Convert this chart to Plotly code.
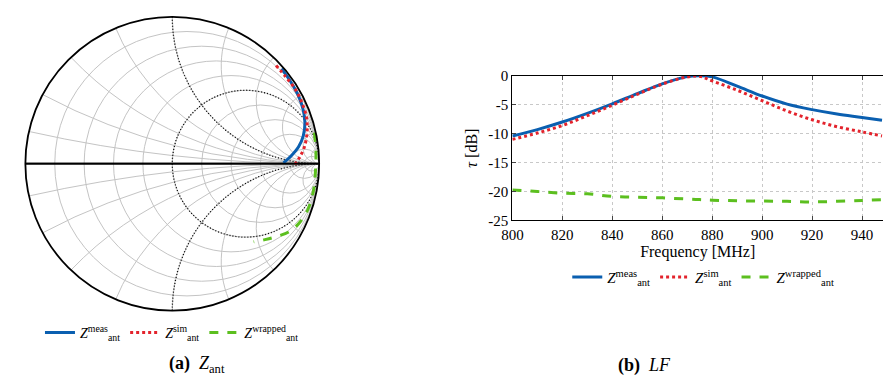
import numpy as np
import plotly.graph_objects as go

# ---------------- data ----------------
# Reflection coefficient (Gamma) of the antenna impedance
meas_gamma_re = [0.744, 0.805, 0.859, 0.892, 0.903, 0.892, 0.859, 0.805, 0.757]
meas_gamma_im = [0.647, 0.560, 0.462, 0.364, 0.277, 0.190, 0.114, 0.049, 0.005]
sim_gamma_re = [0.707, 0.772, 0.838, 0.881, 0.913, 0.918, 0.903, 0.870, 0.826]
sim_gamma_im = [0.669, 0.592, 0.506, 0.419, 0.321, 0.223, 0.125, 0.049, -0.016]
wrap_gamma_re = [0.968, 0.978, 0.975, 0.962, 0.924, 0.870, 0.805, 0.718, 0.631, 0.554]
wrap_gamma_im = [0.212, 0.082, -0.049, -0.179, -0.310, -0.397, -0.458, -0.494, -0.517, -0.532]

# LF transmission vs frequency
freq_mhz = [800, 810, 820, 830, 840, 850, 860, 870, 875, 880, 890, 900, 910, 920, 930, 940, 948]
tau_meas = [-10.4, -9.3, -8.0, -6.5, -4.85, -3.1, -1.4, -0.15, 0.0, -0.2, -1.8, -3.5, -4.9, -5.85, -6.6, -7.2, -7.7]
tau_sim = [-11.0, -9.9, -8.6, -6.9, -5.1, -3.2, -1.45, -0.2, -0.1, -0.9, -2.5, -4.3, -6.1, -7.6, -8.8, -9.7, -10.4]
tau_wrap = [-19.75, -20.0, -20.3, -20.4, -20.85, -21.0, -21.1, -21.3, -21.4, -21.5, -21.6, -21.65, -21.7, -21.8, -21.7, -21.55, -21.4]

y_tickvals = [0, -5, -10, -15, -20, -25]
y_ticktext = ["0", "-5", "-10", "-15", "-20", "-25"]
x_tickvals = [800, 820, 840, 860, 880, 900, 920, 940]

smith_grid_vals = [1 / 9, 0.25, 3 / 7, 2 / 3, 1, 1.5, 7 / 3, 4, 9, 19]

names = ["<i>Z</i><sup>meas</sup><sub>ant</sub>",
         "<i>Z</i><sup>sim</sup><sub>ant</sub>",
         "<i>Z</i><sup>wrapped</sup><sub>ant</sub>"]
colors = ["#0a5fb0", "#e3232c", "#5cbf1f"]
dashes = ["solid", "dot", "dash"]

FONT = "Liberation Serif, DejaVu Serif, serif"


def to_z(gr, gi):
    g = np.array(gr) + 1j * np.array(gi)
    z = (1 + g) / (1 - g)
    return z.real, z.imag


fig = go.Figure()

# Smith-chart reference lines (r = 1 circle, x = +/-1 arcs, real axis)
t = np.tan(np.linspace(-1.565, 1.565, 400))
fig.add_trace(go.Scattersmith(real=np.ones_like(t), imag=t, mode="lines",
                              line=dict(color="black", width=1.3, dash="1px,2px"),
                              showlegend=False, hoverinfo="skip"))
tr = np.tan(np.linspace(0, 1.565, 300))
for s in (1, -1):
    fig.add_trace(go.Scattersmith(real=tr, imag=s * np.ones_like(tr), mode="lines",
                                  line=dict(color="black", width=1.3, dash="1px,2px"),
                                  showlegend=False, hoverinfo="skip"))
fig.add_trace(go.Scattersmith(real=[0, 1e6], imag=[0, 0], mode="lines",
                              line=dict(color="black", width=1.8),
                              showlegend=False, hoverinfo="skip"))

# data on the Smith chart
for gr, gi, nm, c, d in [(meas_gamma_re, meas_gamma_im, names[0], colors[0], dashes[0]),
                         (sim_gamma_re, sim_gamma_im, names[1], colors[1], dashes[1]),
                         (wrap_gamma_re, wrap_gamma_im, names[2], colors[2], dashes[2])]:
    zr, zi = to_z(gr, gi)
    fig.add_trace(go.Scattersmith(real=zr, imag=zi, mode="lines", name=nm,
                                  line=dict(color=c, width=3, dash=d, shape="spline"),
                                  legend="legend"))

# LF plot
for y, nm, c, d in [(tau_meas, names[0], colors[0], dashes[0]),
                    (tau_sim, names[1], colors[1], dashes[1]),
                    (tau_wrap, names[2], colors[2], dashes[2])]:
    fig.add_trace(go.Scatter(x=freq_mhz, y=y, mode="lines", name=nm,
                             line=dict(color=c, width=3, dash=d, shape="spline"),
                             legend="legend2"))

W, H = 883, 383
fig.update_layout(
    width=W, height=H, margin=dict(l=0, r=0, t=0, b=0),
    paper_bgcolor="white", plot_bgcolor="white",
    font=dict(family=FONT, size=15, color="black"),
    smith=dict(
        domain=dict(x=[10 / W, 316.6 / W], y=[1 - 315.8 / H, 1 - 9.2 / H]),
        bgcolor="white",
        realaxis=dict(tickvals=smith_grid_vals, showticklabels=False, ticks="",
                      gridcolor="#c4c4c4", gridwidth=0.8, showline=True,
                      linecolor="black", linewidth=1.8),
        imaginaryaxis=dict(tickvals=[-v for v in smith_grid_vals[::-1]] + smith_grid_vals,
                           showticklabels=False, ticks="",
                           gridcolor="#c4c4c4", gridwidth=0.8, showline=True,
                           linecolor="black", linewidth=1.8),
    ),
    xaxis=dict(domain=[507.7 / W, 1.0], range=[800, 948.4],
               tickvals=x_tickvals, ticks="inside", ticklen=4,
               showline=True, linecolor="black", linewidth=1.2, mirror="ticks",
               showgrid=True, gridcolor="#c8c8c8", griddash="dot", gridwidth=1,
               zeroline=False, tickfont=dict(size=15),
               title=dict(text="Frequency [MHz]", font=dict(size=16), standoff=4)),
    yaxis=dict(domain=[1 - 221.7 / H, 1 - 70.7 / H], range=[-25, 0],
               tickvals=y_tickvals, ticktext=y_ticktext, ticks="inside", ticklen=4,
               showline=True, linecolor="black", linewidth=1.2, mirror=False,
               showgrid=True, gridcolor="#c8c8c8", griddash="dot", gridwidth=1,
               zeroline=False, tickfont=dict(size=15),
               title=dict(text="<i>τ</i> [dB]", font=dict(size=16), standoff=6)),
    legend=dict(orientation="h", x=163 / W, xanchor="center", y=1 - 339 / H, yanchor="middle",
                font=dict(size=14), bgcolor="rgba(0,0,0,0)", itemwidth=30),
    legend2=dict(orientation="h", x=701 / W, xanchor="center", y=1 - 281 / H, yanchor="middle",
                 font=dict(size=15), bgcolor="rgba(0,0,0,0)", itemwidth=30),
    annotations=[
        dict(text="<b>(a)</b>  <i>Z</i><sub>ant</sub>", x=158 / W, y=1 - 372 / H,
             xref="paper", yref="paper", showarrow=False, font=dict(size=18),
             yanchor="middle"),
        dict(text="<b>(b)</b>  <i>LF</i>", x=670 / W, y=1 - 373 / H,
             xref="paper", yref="paper", showarrow=False, font=dict(size=18),
             yanchor="middle"),
    ],
)

fig.write_html("out.html")
